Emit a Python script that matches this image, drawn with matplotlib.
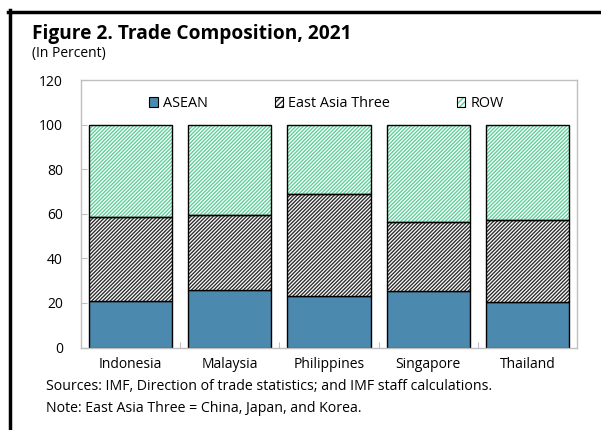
import matplotlib
matplotlib.use('Agg')
import matplotlib.pyplot as plt
from matplotlib.patches import Patch
from matplotlib.legend_handler import HandlerTuple
from matplotlib.lines import Line2D

plt.rcParams['font.family'] = ['Open Sans', 'DejaVu Sans']
plt.rcParams['hatch.linewidth'] = 1.0

countries = ['Indonesia', 'Malaysia', 'Philippines', 'Singapore', 'Thailand']
asean = [20.9, 25.6, 23.3, 25.2, 20.3]
east_asia_three = [37.8, 34.0, 45.7, 31.3, 36.7]
row = [41.3, 40.4, 31.0, 43.5, 43.0]
series_names = ['ASEAN', 'East Asia Three', 'ROW']
yticks = [0, 20, 40, 60, 80, 100, 120]

blue = '#4B8AAE'
green = '#62CF9C'
grey = '#BFBFBF'

fig = plt.figure(figsize=(6.01, 4.30), dpi=100)
ax = fig.add_axes([81/601, 1 - 347.5/430, 496/601, 267.5/430])

x = range(len(countries))
width = 0.84
ea_bottom = asean
row_bottom = [a + e for a, e in zip(asean, east_asia_three)]

# ASEAN: solid fill
ax.bar(x, asean, width, color=blue, edgecolor='black', linewidth=1.0, zorder=2)
# East Asia Three: dark hatch on white, black outline drawn separately
ax.bar(x, east_asia_three, width, bottom=ea_bottom, color='white', edgecolor='#303030',
       hatch='/////////', linewidth=0, zorder=2)
ax.bar(x, east_asia_three, width, bottom=ea_bottom, fill=False, edgecolor='black',
       linewidth=1.0, zorder=3)
# ROW: green hatch on white
ax.bar(x, row, width, bottom=row_bottom, color='white', edgecolor=green,
       hatch='/////////', linewidth=0, zorder=2)
ax.bar(x, row, width, bottom=row_bottom, fill=False, edgecolor='black',
       linewidth=1.0, zorder=3)

ax.set_xlim(-0.5, len(countries) - 0.5)
ax.set_ylim(0, 120)
ax.set_yticks(yticks)
ax.set_yticklabels([str(t) for t in yticks], fontsize=10)
ax.set_xticks([i + 0.5 for i in range(len(countries) - 1)])
ax.set_xticklabels([])
ax.set_xticks(list(x), minor=True)
ax.set_xticklabels(countries, minor=True, fontsize=10)
ax.tick_params(axis='x', which='minor', length=0, pad=7)
ax.tick_params(axis='x', which='major', direction='in', length=4, color=grey)
ax.tick_params(axis='y', direction='in', length=4, color=grey, pad=13)
for s in ax.spines.values():
    s.set_color(grey)
    s.set_linewidth(1.0)

h_asean = Patch(facecolor=blue, edgecolor='black', linewidth=0.8)
h_ea = (Patch(facecolor='white', edgecolor='#303030', hatch='//////', linewidth=0),
        Patch(fill=False, edgecolor='black', linewidth=0.8))
h_row = (Patch(facecolor='white', edgecolor=green, hatch='//////', linewidth=0),
         Patch(fill=False, edgecolor='black', linewidth=0.8))
ax.legend([h_asean, h_ea, h_row], series_names, ncol=3, frameon=False,
          loc='center', bbox_to_anchor=(0.495, 0.912), fontsize=10.4,
          handlelength=0.6, handleheight=0.6, handletextpad=0.35, columnspacing=4.6,
          borderpad=0, handler_map={tuple: HandlerTuple(ndivide=1)})

# frame lines of the figure box
fig.add_artist(Line2D([9.5/601, 9.5/601], [0, 1 - 10/430], color='black', linewidth=2.5))
fig.add_artist(Line2D([8/601, 1], [1 - 11.5/430, 1 - 11.5/430], color='black', linewidth=2.5))

fig.text(32/601, 1 - 38.5/430, 'Figure 2. Trade Composition, 2021', fontsize=13.8,
         fontweight='bold', va='baseline', ha='left')
fig.text(32/601, 1 - 57/430, '(In Percent)', fontsize=10, va='baseline', ha='left')
fig.text(46/601, 1 - 386/430, 'Sources: IMF, Direction of trade statistics; and IMF staff calculations.',
         fontsize=10.2, va='center', ha='left')
fig.text(46/601, 1 - 408/430, 'Note: East Asia Three = China, Japan, and Korea.',
         fontsize=10.2, va='center', ha='left')

fig.savefig('out.png', dpi=100)
